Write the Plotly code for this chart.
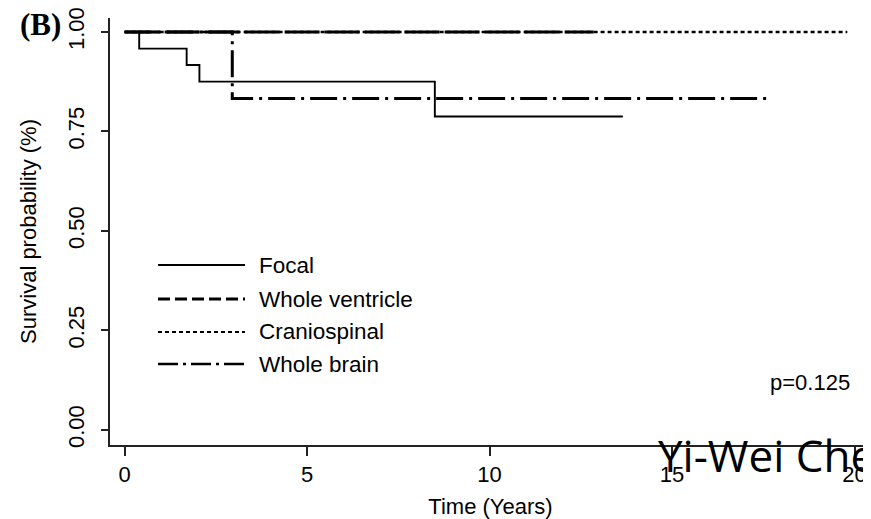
import plotly.graph_objects as go

# Kaplan-Meier step data (time in years, survival probability)
focal_t = [0, 0.4, 1.7, 2.05, 8.5, 13.65]
focal_s = [1.0, 0.958, 0.917, 0.875, 0.7875, 0.7875]

ventricle_t = [0, 12.85]
ventricle_s = [1.0, 1.0]

cranio_t = [0, 19.8]
cranio_s = [1.0, 1.0]

brain_t = [0, 2.95, 17.6]
brain_s = [1.0, 0.833, 0.833]

x_ticks = [0, 5, 10, 15, 20]
y_ticks = [0.0, 0.25, 0.5, 0.75, 1.0]
y_ticklabels = ["0.00", "0.25", "0.50", "0.75", "1.00"]

legend_names = ["Focal", "Whole ventricle", "Craniospinal", "Whole brain"]

FONT = "Liberation Sans, Arial, sans-serif"

fig = go.Figure()
fig.add_trace(go.Scatter(x=cranio_t, y=cranio_s, mode="lines", line_shape="hv",
                         line=dict(color="black", width=2.5, dash="4px,3px"), name="Craniospinal"))
fig.add_trace(go.Scatter(x=brain_t, y=brain_s, mode="lines", line_shape="hv",
                         line=dict(color="black", width=3, dash="27px,6px,3px,6px"), name="Whole brain"))
fig.add_trace(go.Scatter(x=ventricle_t, y=ventricle_s, mode="lines", line_shape="hv",
                         line=dict(color="black", width=3, dash="35px,5px"), name="Whole ventricle"))
fig.add_trace(go.Scatter(x=focal_t, y=focal_s, mode="lines", line_shape="hv",
                         line=dict(color="black", width=1.9), name="Focal"))

# page offset (browser body margin)
OFF = 8
# plot area in screen pixels
L, R, T, B = 110, 871, 18, 445
W, H = R - L, B - T
def px(x):
    return (x - L) / W
def py(y):
    return (B - y) / H

rows = [265, 299, 332, 364]
styles = [dict(width=1.8, dash="solid"), dict(width=3, dash="12px,5px"),
          dict(width=2, dash="4px,3px"), dict(width=2.5, dash="20px,5px,3px,5px")]
shapes = []
annotations = []
for name, ry, st in zip(legend_names, rows, styles):
    shapes.append(dict(type="line", xref="paper", yref="paper", x0=px(158), x1=px(245),
                       y0=py(ry), y1=py(ry), line=dict(color="black", **st)))
    annotations.append(dict(xref="paper", yref="paper", x=px(257), y=py(ry), text=name,
                            showarrow=False, xanchor="left", yanchor="middle",
                            font=dict(family=FONT, size=22.5, color="black")))

annotations.append(dict(xref="paper", yref="paper", x=px(852), y=py(382), text="p=0.125",
                        showarrow=False, xanchor="right", yanchor="middle",
                        font=dict(family=FONT, size=22, color="black")))
annotations.append(dict(xref="paper", yref="paper", x=px(18), y=py(24), text="<b>(B)</b>",
                        showarrow=False, xanchor="left", yanchor="middle",
                        font=dict(family="Liberation Serif, Times New Roman, serif", size=31, color="black")))
annotations.append(dict(xref="paper", yref="paper", x=px(656), y=py(455), text="Yi-Wei Chen",
                        showarrow=False, xanchor="left", yanchor="middle",
                        font=dict(family="Open Sans, sans-serif", size=44, color="black")))

fig.update_layout(
    width=871 - OFF, height=519 - OFF,
    margin=dict(l=L - OFF, r=0, t=T - OFF, b=519 - B),
    paper_bgcolor="white", plot_bgcolor="white",
    showlegend=False,
    shapes=shapes, annotations=annotations,
    font=dict(family=FONT, color="black"),
)
fig.update_xaxes(range=[-0.40, 20.45], tickvals=x_ticks, showgrid=False, zeroline=False,
                 automargin=False, ticklabeloverflow="allow",
                 showline=True, linecolor="#222", linewidth=2, ticks="outside", ticklen=9,
                 tickwidth=2, tickcolor="#222", tickfont=dict(size=22, family=FONT),
                 title=dict(text="Time (Years)", font=dict(size=22, family=FONT), standoff=12))
fig.update_yaxes(range=[-0.038, 1.035], tickvals=y_ticks, ticktext=y_ticklabels, showgrid=False,
                 automargin=False, ticklabeloverflow="allow",
                 zeroline=False, showline=True, linecolor="#222", linewidth=2, ticks="outside",
                 ticklen=7, tickwidth=2, tickcolor="#222", tickangle=-90, ticklabelstandoff=8,
                 tickfont=dict(size=22, family=FONT),
                 title=dict(text="Survival probability (%)", font=dict(size=22, family=FONT), standoff=22))

fig.write_html("out.html")
